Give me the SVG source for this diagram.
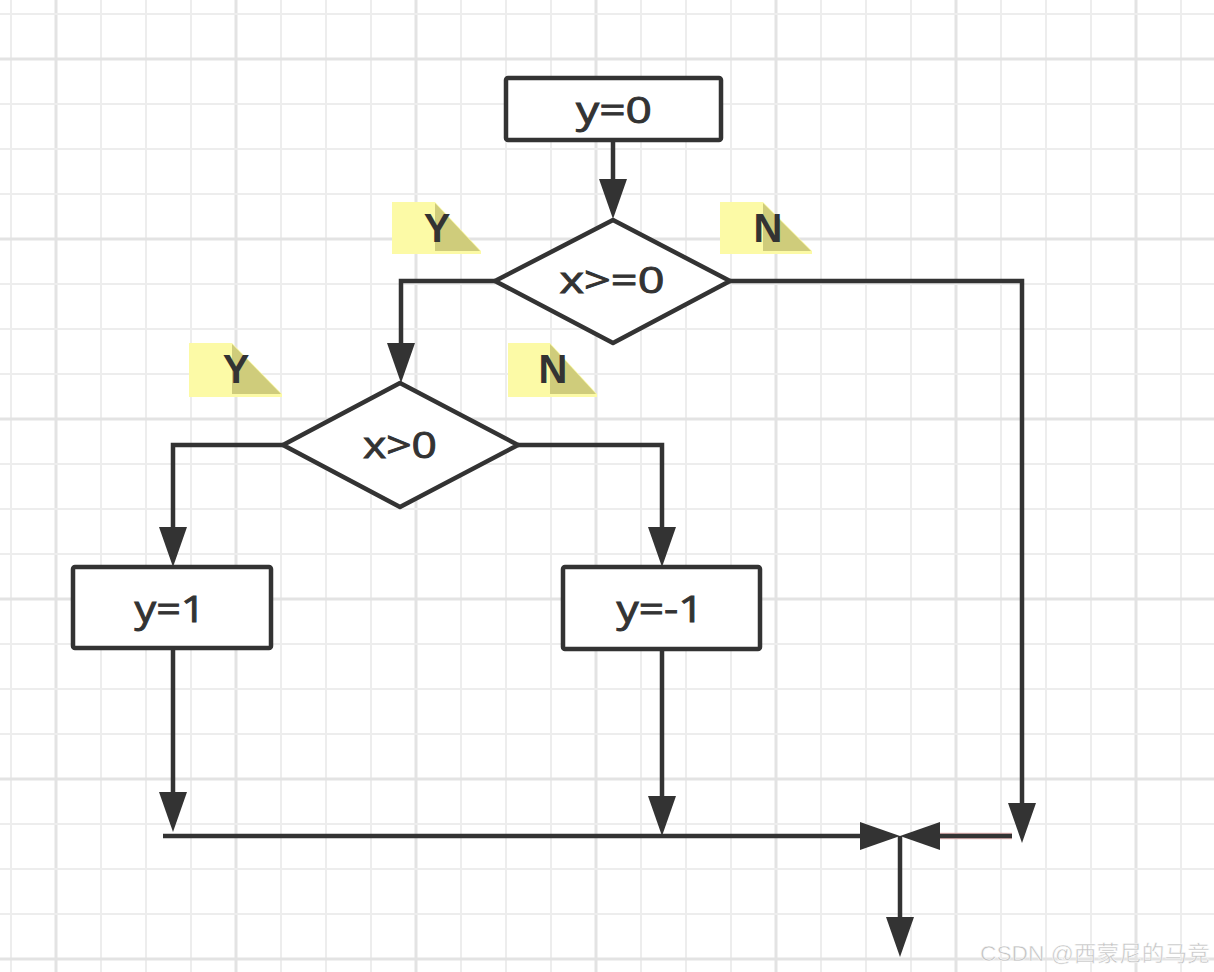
<svg xmlns="http://www.w3.org/2000/svg" width="1214" height="972" viewBox="0 0 1214 972">
<defs>
<style>
.g{stroke:#ededed;stroke-width:2}
.gt{stroke:#e3e3e3;stroke-width:3}
.box{fill:#ffffff;stroke:#333333;stroke-width:4.5;stroke-linejoin:round}
.lbl{font-family:"Open Sans","Liberation Sans",sans-serif;font-weight:500;font-size:36px;fill:#333333;stroke:#333333;stroke-width:0.9;text-anchor:middle}
.yn{font-family:"Liberation Sans",Arial,sans-serif;font-weight:bold;font-size:40px;fill:#333333;text-anchor:middle}
.pl{fill:#fcfaa6}
.pd{fill:#cfcc7b}
.c{fill:none;stroke:#333333;stroke-width:4.5;stroke-linejoin:miter}
</style>
<marker id="ah" markerUnits="userSpaceOnUse" markerWidth="42" markerHeight="30" refX="32" refY="14" orient="auto">
<path d="M0,0 L40,14 L0,28 z" fill="#333333"/>
</marker>
</defs>
<rect width="1214" height="972" fill="#ffffff"/>
<g id="grid">
<path class="g" d="M11,0V972M101,0V972M146,0V972M191,0V972M281,0V972M326,0V972M371,0V972M461,0V972M506,0V972M551,0V972M641,0V972M686,0V972M731,0V972M821,0V972M866,0V972M911,0V972M1001,0V972M1046,0V972M1091,0V972M1181,0V972"/>
<path class="gt" d="M56,0V972M236,0V972M416,0V972M596,0V972M776,0V972M956,0V972M1136,0V972"/>
<path class="g" d="M0,14H1214M0,104H1214M0,149H1214M0,194H1214M0,284H1214M0,329H1214M0,374H1214M0,464H1214M0,509H1214M0,554H1214M0,644H1214M0,689H1214M0,734H1214M0,824H1214M0,869H1214M0,914H1214"/>
<path class="gt" d="M0,59H1214M0,239H1214M0,419H1214M0,599H1214M0,779H1214M0,959H1214"/>
</g>
<g id="connectors">
<path class="c" d="M613,140V211" marker-end="url(#ah)"/>
<path class="c" d="M495,281H401V375" marker-end="url(#ah)"/>
<path class="c" d="M730,281H1022V835" marker-end="url(#ah)"/>
<path class="c" d="M283,445H173V559" marker-end="url(#ah)"/>
<path class="c" d="M518,445H662V559" marker-end="url(#ah)"/>
<path class="c" d="M173,648V824" marker-end="url(#ah)"/>
<path class="c" d="M662,649V828" marker-end="url(#ah)"/>
<path class="c" d="M163,836H892" marker-end="url(#ah)"/>
<path d="M1012,836H930" fill="none" stroke="#eab8b8" stroke-width="6.5"/>
<path class="c" d="M1012,836H908" marker-end="url(#ah)"/>
<path class="c" d="M900,836V949" marker-end="url(#ah)"/>
</g>
<g id="n-start">
<rect class="box" x="506" y="78" width="215" height="62" rx="2"/>
<text class="lbl" x="614" y="123" textLength="76" lengthAdjust="spacingAndGlyphs">y=0</text>
</g>
<g id="n-cond1">
<polygon class="box" points="613,220 730,281 613,343 495,281"/>
<text class="lbl" x="612" y="293" textLength="105" lengthAdjust="spacingAndGlyphs">x&gt;=0</text>
</g>
<g id="n-cond2">
<polygon class="box" points="400,383 518,445 400,507 283,445"/>
<text class="lbl" x="400" y="458" textLength="74" lengthAdjust="spacingAndGlyphs">x&gt;0</text>
</g>
<g id="n-y1">
<rect class="box" x="73" y="567" width="198" height="81" rx="2"/>
<text class="lbl" x="170" y="622" textLength="71" lengthAdjust="spacingAndGlyphs">y=1</text>
</g>
<g id="n-ym1">
<rect class="box" x="563" y="567" width="197" height="82" rx="2"/>
<text class="lbl" x="660" y="622" textLength="87" lengthAdjust="spacingAndGlyphs">y=-1</text>
</g>
<g id="label-y1">
<polygon class="pl" points="392,202 435,202 481,251 481,254 392,254"/>
<polygon class="pd" points="435,203 480,251 435,251"/>
<text class="yn" x="437" y="242">Y</text>
</g>
<g id="label-n1">
<polygon class="pl" points="720,202 763,202 812,251 812,254 720,254"/>
<polygon class="pd" points="763,203 811,251 763,251"/>
<text class="yn" x="768" y="242">N</text>
</g>
<g id="label-y2">
<polygon class="pl" points="189,343 232,343 282,394 282,397 189,397"/>
<polygon class="pd" points="232,344 281,394 232,394"/>
<text class="yn" x="236" y="383">Y</text>
</g>
<g id="label-n2">
<polygon class="pl" points="508,343 550,343 597,394 597,397 508,397"/>
<polygon class="pd" points="550,344 596,394 550,394"/>
<text class="yn" x="553" y="383">N</text>
</g>
<text x="1210" y="961" font-family="'Liberation Sans','Noto Sans CJK SC',sans-serif" font-size="22" fill="#c2c2c2" stroke="#ffffff" stroke-width="0.5" text-anchor="end" textLength="230" lengthAdjust="spacingAndGlyphs">CSDN @西蒙尼的马竞</text>
</svg>
